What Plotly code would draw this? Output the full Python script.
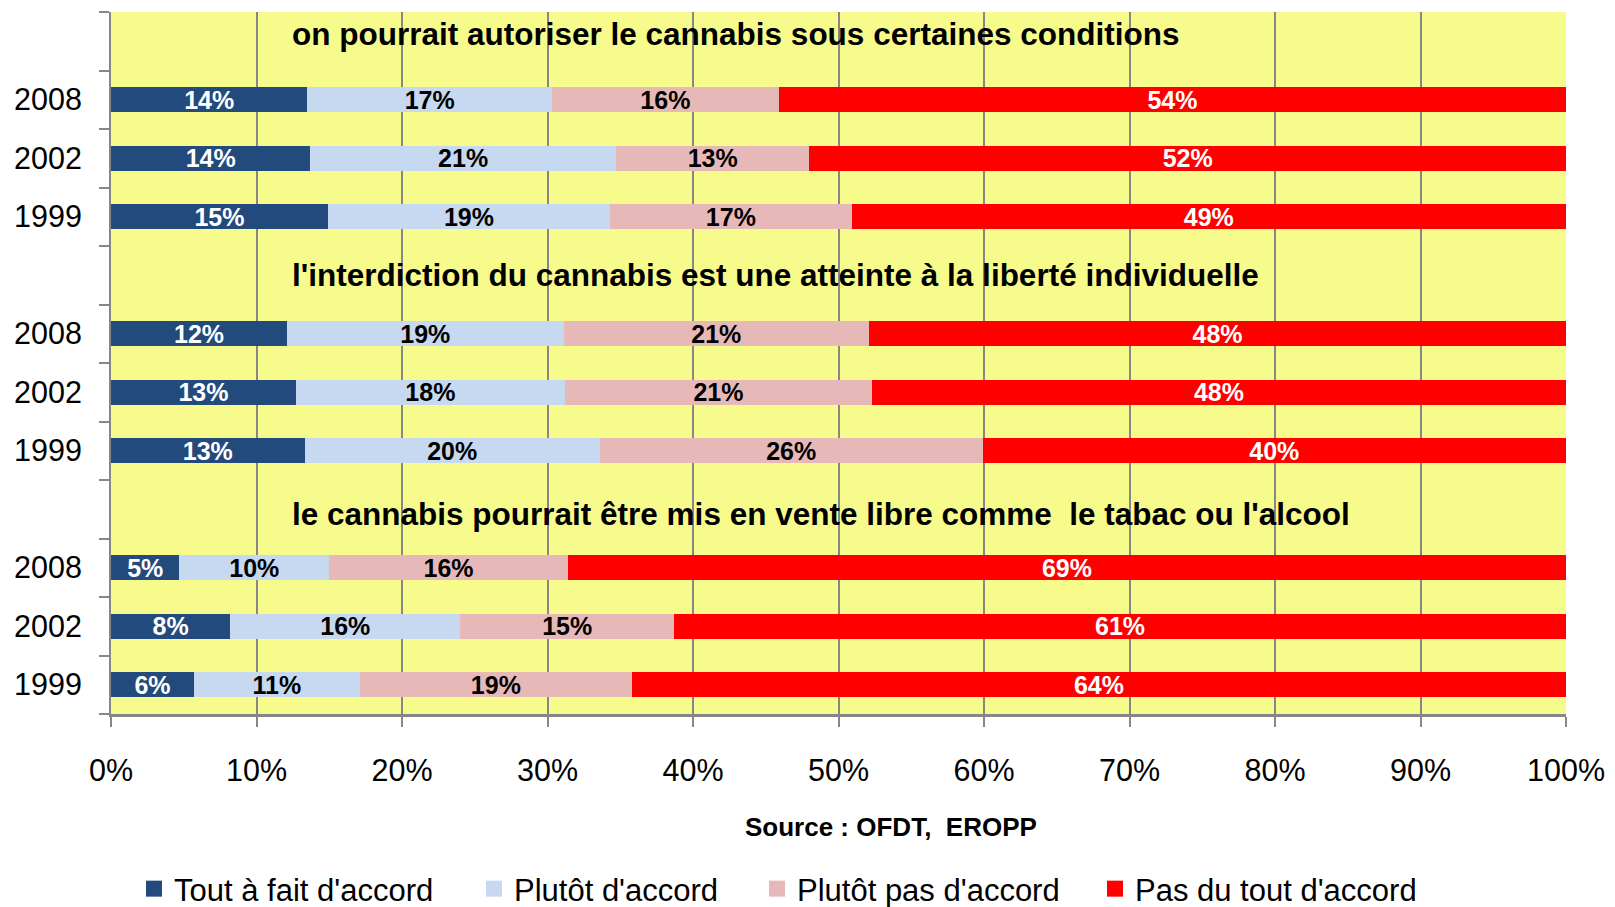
import plotly.graph_objects as go

# ---------------- data ----------------
row_ids = ["H1", "A2008", "A2002", "A1999",
           "H2", "B2008", "B2002", "B1999",
           "H3", "C2008", "C2002", "C1999"]
row_labels = [" ", "2008", "2002", "1999",
              " ", "2008", "2002", "1999",
              " ", "2008", "2002", "1999"]

headings = ["on pourrait autoriser le cannabis sous certaines conditions",
            "l'interdiction du cannabis est une atteinte à la liberté individuelle",
            "le cannabis pourrait être mis en vente libre comme  le tabac ou l'alcool"]
heading_rows = ["H1", "H2", "H3"]

series_names = ["Tout à fait d'accord", "Plutôt d'accord",
                "Plutôt pas d'accord", "Pas du tout d'accord"]

tout_a_fait = [None, 13.5, 13.7, 14.9, None, 12.1, 12.7, 13.3, None, 4.7, 8.2, 5.7]
plutot      = [None, 16.8, 21.0, 19.4, None, 19.0, 18.5, 20.3, None, 10.3, 15.8, 11.4]
plutot_pas  = [None, 15.6, 13.3, 16.6, None, 21.0, 21.1, 26.3, None, 16.4, 14.7, 18.7]
pas_du_tout = [None, 54.1, 52.0, 49.1, None, 47.9, 47.7, 40.1, None, 68.6, 61.3, 64.2]

lab_tout  = ["", "14%", "14%", "15%", "", "12%", "13%", "13%", "", "5%", "8%", "6%"]
lab_plut  = ["", "17%", "21%", "19%", "", "19%", "18%", "20%", "", "10%", "16%", "11%"]
lab_ppas  = ["", "16%", "13%", "17%", "", "21%", "21%", "26%", "", "16%", "15%", "19%"]
lab_pdt   = ["", "54%", "52%", "49%", "", "48%", "48%", "40%", "", "69%", "61%", "64%"]

x_ticks = [0, 10, 20, 30, 40, 50, 60, 70, 80, 90, 100]
x_tick_labels = ["0%", "10%", "20%", "30%", "40%", "50%", "60%", "70%", "80%", "90%", "100%"]
source_text = "Source : OFDT,  EROPP"

# ---------------- style ----------------
colors = ["#234A7C", "#C6D9F1", "#E6B9B8", "#FF0000"]
label_colors = ["white", "black", "black", "white"]
FONT = "Liberation Sans, Arial, sans-serif"
GRID = "#878787"
W, H = 1615, 907
ML, MR, MT, MB = 111, 49, 12, 193

fig = go.Figure()
all_vals = [tout_a_fait, plutot, plutot_pas, pas_du_tout]
all_labs = [lab_tout, lab_plut, lab_ppas, lab_pdt]
for i in range(4):
    fig.add_trace(go.Bar(
        y=row_ids, x=all_vals[i], orientation="h", name=series_names[i],
        marker=dict(color=colors[i], line=dict(width=0)),
        text=all_labs[i], textposition="inside", insidetextanchor="middle",
        constraintext="none", textangle=0,
        textfont=dict(family=FONT, size=25, color=label_colors[i], weight="bold"),
        showlegend=False, hoverinfo="skip",
    ))

# legend entries (one legend each, for exact placement)
leg_starts = [134, 474, 757, 1095]
for i in range(4):
    lg = "legend" if i == 0 else f"legend{i+1}"
    fig.add_trace(go.Scatter(
        x=[None], y=[None], mode="markers", name=series_names[i],
        marker=dict(symbol="square", size=18, color=colors[i]),
        legend=lg, showlegend=True,
    ))

plot_w = W - ML - MR
plot_h = H - MT - MB
leg_y = (H - MB - 889) / plot_h
legend_layout = {}
for i in range(4):
    key = "legend" if i == 0 else f"legend{i+1}"
    legend_layout[key] = dict(
        x=(leg_starts[i] - ML) / plot_w, xanchor="left",
        y=leg_y, yanchor="middle", orientation="h",
        font=dict(family=FONT, size=31, color="black"),
        bgcolor="rgba(0,0,0,0)", borderwidth=0, itemsizing="trace",
    )

heading_shift = [7, 0, -5]
annotations = []
for txt, r, s in zip(headings, heading_rows, heading_shift):
    annotations.append(dict(
        x=12.3, y=r, xref="x", yref="y", xanchor="left", yanchor="middle",
        text=txt, showarrow=False, yshift=s,
        font=dict(family=FONT, size=31.5, color="black", weight="bold"),
    ))
annotations.append(dict(
    x=(891 - ML) / plot_w, y=(H - MB - 827) / plot_h, xref="paper", yref="paper",
    xanchor="center", yanchor="middle", text=source_text, showarrow=False,
    font=dict(family=FONT, size=26, color="black", weight="bold"),
))

fig.update_layout(
    width=W, height=H,
    margin=dict(l=ML, r=MR, t=MT, b=MB, pad=0, autoexpand=False),
    barmode="stack", bargap=0.58,
    paper_bgcolor="white", plot_bgcolor="#F6FB8C",
    font=dict(family=FONT, color="black"),
    annotations=annotations,
    **legend_layout,
)
fig.update_xaxes(
    range=[0, 100], tickvals=x_ticks, ticktext=x_tick_labels,
    showgrid=True, gridcolor=GRID, gridwidth=2,
    showline=True, linecolor=GRID, linewidth=3,
    ticks="outside", ticklen=10, tickwidth=2, tickcolor=GRID,
    tickfont=dict(family=FONT, size=30.5, color="black"),
    ticklabelstandoff=17, zeroline=False, fixedrange=True, automargin=False,
)
fig.update_yaxes(
    type="category", categoryorder="array", categoryarray=row_ids,
    autorange="reversed", tickvals=row_ids, ticktext=row_labels,
    ticks="outside", tickson="boundaries", ticklen=10, tickwidth=2, tickcolor=GRID,
    showline=True, linecolor=GRID, linewidth=2, showgrid=False,
    tickfont=dict(family=FONT, size=30.5, color="black"),
    ticklabelstandoff=21, fixedrange=True, automargin=False,
)

fig.write_html("out.html", post_script="document.body.style.margin='0';",
               config={"displayModeBar": False})
